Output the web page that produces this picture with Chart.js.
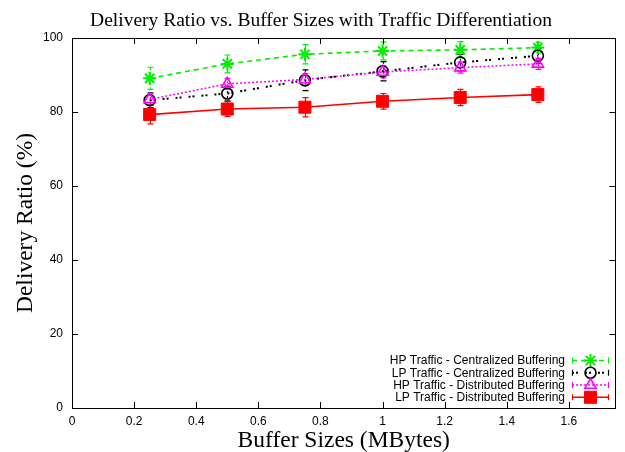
<!DOCTYPE html>
<html>
<head>
<meta charset="utf-8">
<script src="https://cdn.jsdelivr.net/npm/chart.js@4/dist/chart.umd.min.js"></script>
<style>
html,body{margin:0;padding:0;background:#fff;}
#wrap{width:625px;height:452px;position:relative;}
</style>
</head>
<body>
<div id="wrap"><canvas id="c" width="625" height="452"></canvas></div>
<script>
const chartTitle = 'Delivery Ratio vs. Buffer Sizes with Traffic Differentiation';
const xTitle = 'Buffer Sizes (MBytes)';
const yTitle = 'Delivery Ratio (%)';
const seriesNames = [
  'HP Traffic - Centralized Buffering',
  'LP Traffic - Centralized Buffering',
  'HP Traffic - Distributed Buffering',
  'LP Traffic - Distributed Buffering'
];
const bufferSizes = [0.25, 0.5, 0.75, 1.0, 1.25, 1.5];
const hpCentral    = [89.1, 93.0, 95.6, 96.5, 96.8, 97.4];
const hpCentralErr = [3.0, 2.4, 2.6, 2.4, 2.2, 1.4];
const lpCentral    = [83.2, 85.0, 88.6, 91.0, 93.4, 95.2];
const lpCentralErr = [2.0, 2.0, 2.8, 2.6, 2.2, 2.0];
const hpDist       = [83.4, 87.6, 88.8, 90.8, 92.0, 93.0];
const hpDistErr    = [1.5, 1.5, 1.6, 1.6, 1.5, 1.5];
const lpDist       = [79.3, 80.8, 81.3, 82.9, 83.9, 84.7];
const lpDistErr    = [2.5, 2.0, 2.6, 2.1, 2.2, 2.1];
const xTickValues = [0, 0.2, 0.4, 0.6, 0.8, 1, 1.2, 1.4, 1.6];
const yTickValues = [0, 20, 40, 60, 80, 100];

const SANS = '"Liberation Sans", Arial, sans-serif';
const SERIF = '"Liberation Serif", "Times New Roman", serif';

function pts(ys){ return bufferSizes.map((x,i)=>({x:x, y:ys[i]})); }

const datasets = [
  {label: seriesNames[0], data: pts(hpCentral), errs: hpCentralErr, borderColor:'#00ee00', backgroundColor:'#00ee00',
   borderWidth:1.6, borderDash:[5,4], errDash:[3,2], pointStyle:'star', pointRadius:6.5, pointBorderWidth:2, order:4},
  {label: seriesNames[1], data: pts(lpCentral), errs: lpCentralErr, borderColor:'#000000', backgroundColor:'rgba(0,0,0,0)',
   borderWidth:2, borderDash:[2,2,2,7], errDash:[2,3], pointStyle:'circle', pointRadius:5.5, pointBorderWidth:1.6, order:3},
  {label: seriesNames[2], data: pts(hpDist), errs: hpDistErr, borderColor:'#ff00ff', backgroundColor:'rgba(0,0,0,0)',
   borderWidth:1.5, borderDash:[2,2], errDash:[2,1], pointStyle:'triangle', pointRadius:6.5, pointBorderWidth:1.6, order:2},
  {label: seriesNames[3], data: pts(lpDist), errs: lpDistErr, borderColor:'#ff0000', backgroundColor:'#ff0000',
   borderWidth:1.6, borderDash:[], errDash:[], pointStyle:'rect', pointRadius:8.5, pointBorderWidth:1, order:1}
];

function drawMarker(ctx, ds, x, y){
  ctx.save();
  ctx.setLineDash([]);
  ctx.fillStyle = ds.backgroundColor; ctx.strokeStyle = ds.borderColor; ctx.lineWidth = ds.pointBorderWidth;
  Chart.helpers.drawPoint(ctx, {pointStyle: ds.pointStyle, radius: ds.pointRadius, borderWidth: ds.pointBorderWidth, rotation:0}, x, y);
  ctx.restore();
}

const customPlugin = {
  id: 'gnuplotLook',
  beforeDatasetsDraw(chart){
    const ctx = chart.ctx, xs = chart.scales.x, ys = chart.scales.y;
    ctx.save();
    chart.data.datasets.forEach(ds=>{
      ctx.strokeStyle = ds.borderColor; ctx.lineWidth = 1.2;
      ds.data.forEach((p,i)=>{
        const px = Math.round(xs.getPixelForValue(p.x))+0.5;
        const top = ys.getPixelForValue(p.y + ds.errs[i]);
        const bot = ys.getPixelForValue(p.y - ds.errs[i]);
        ctx.setLineDash(ds.errDash);
        ctx.beginPath();
        ctx.moveTo(px, top); ctx.lineTo(px, bot);
        ctx.stroke();
        ctx.setLineDash([]);
        ctx.beginPath();
        ctx.moveTo(px-3, top); ctx.lineTo(px+3, top);
        ctx.moveTo(px-3, bot); ctx.lineTo(px+3, bot);
        ctx.stroke();
      });
    });
    ctx.restore();
  },
  afterDraw(chart){
    const ctx = chart.ctx, a = chart.chartArea, xs = chart.scales.x, ys = chart.scales.y;
    ctx.save();
    // frame
    ctx.strokeStyle = '#000'; ctx.lineWidth = 1; ctx.setLineDash([]);
    ctx.strokeRect(Math.round(a.left)+0.5, Math.round(a.top)+0.5, Math.round(a.right-a.left)-1, Math.round(a.bottom-a.top));
    // inward ticks
    ctx.beginPath();
    xTickValues.forEach(v=>{
      const px = Math.round(xs.getPixelForValue(v))+0.5;
      ctx.moveTo(px, a.bottom); ctx.lineTo(px, a.bottom-6);
      ctx.moveTo(px, a.top); ctx.lineTo(px, a.top+6);
    });
    yTickValues.forEach(v=>{
      const py = Math.round(ys.getPixelForValue(v))+0.5;
      ctx.moveTo(a.left, py); ctx.lineTo(a.left+6, py);
      ctx.moveTo(a.right, py); ctx.lineTo(a.right-6, py);
    });
    ctx.stroke();
    // title
    ctx.fillStyle = '#000';
    ctx.font = '19.5px ' + SERIF;
    ctx.textAlign = 'center'; ctx.textBaseline = 'alphabetic';
    ctx.fillText(chartTitle, 321, 26);
    // x title
    ctx.font = '23.5px ' + SERIF;
    ctx.fillText(xTitle, (a.left+a.right)/2, 447);
    // y title
    ctx.save();
    ctx.translate(32, (a.top+a.bottom)/2);
    ctx.rotate(-Math.PI/2);
    ctx.fillText(yTitle, 0, 0);
    ctx.restore();
    // legend
    const rowY = [360.5, 372.8, 385, 397.3];
    const textRight = 565, x0 = 572, x1 = 609, mx = 590.5;
    chart.data.datasets.forEach((ds,i)=>{
      const y = rowY[i];
      ctx.font = '12px ' + SANS; ctx.fillStyle = '#000';
      ctx.textAlign = 'right'; ctx.textBaseline = 'middle';
      ctx.fillText(ds.label, textRight, y+0.5);
      ctx.strokeStyle = ds.borderColor; ctx.lineWidth = ds.borderWidth;
      ctx.setLineDash(ds.borderDash);
      ctx.beginPath(); ctx.moveTo(x0, y); ctx.lineTo(x1, y); ctx.stroke();
      ctx.setLineDash([]); ctx.lineWidth = 1.2;
      ctx.beginPath();
      ctx.moveTo(x0+0.5, y-3); ctx.lineTo(x0+0.5, y+3);
      ctx.moveTo(x1-0.5, y-3); ctx.lineTo(x1-0.5, y+3);
      ctx.stroke();
      drawMarker(ctx, ds, mx, y);
    });
    ctx.restore();
  }
};

new Chart(document.getElementById('c'), {
  type: 'line',
  data: { datasets: datasets },
  plugins: [customPlugin],
  options: {
    responsive: false,
    animation: false,
    devicePixelRatio: 1,
    layout: { padding: { top: 38, right: 2, left: 0, bottom: 0 } },
    plugins: { legend: { display: false }, title: { display: false }, tooltip: { enabled: false } },
    elements: { line: { tension: 0, fill: false }, point: { hoverRadius: 0 } },
    scales: {
      x: {
        type: 'linear', min: 0, max: 1.75,
        afterFit(s){ s.height = 44; },
        afterBuildTicks(s){ s.ticks = xTickValues.map(v=>({value:v})); },
        ticks: { color:'#000', font:{ family: SANS, size: 12 }, padding: 6, maxRotation:0,
                 callback: v => String(Math.round(v*10)/10) },
        grid: { display: false, drawTicks: false },
        border: { display: false }
      },
      y: {
        type: 'linear', min: 0, max: 100,
        afterFit(s){ s.width = 72; },
        afterBuildTicks(s){ s.ticks = yTickValues.map(v=>({value:v})); },
        ticks: { color:'#000', font:{ family: SANS, size: 12 }, padding: 9,
                 callback: v => String(v) },
        grid: { display: false, drawTicks: false },
        border: { display: false }
      }
    }
  }
});
</script>
</body>
</html>
